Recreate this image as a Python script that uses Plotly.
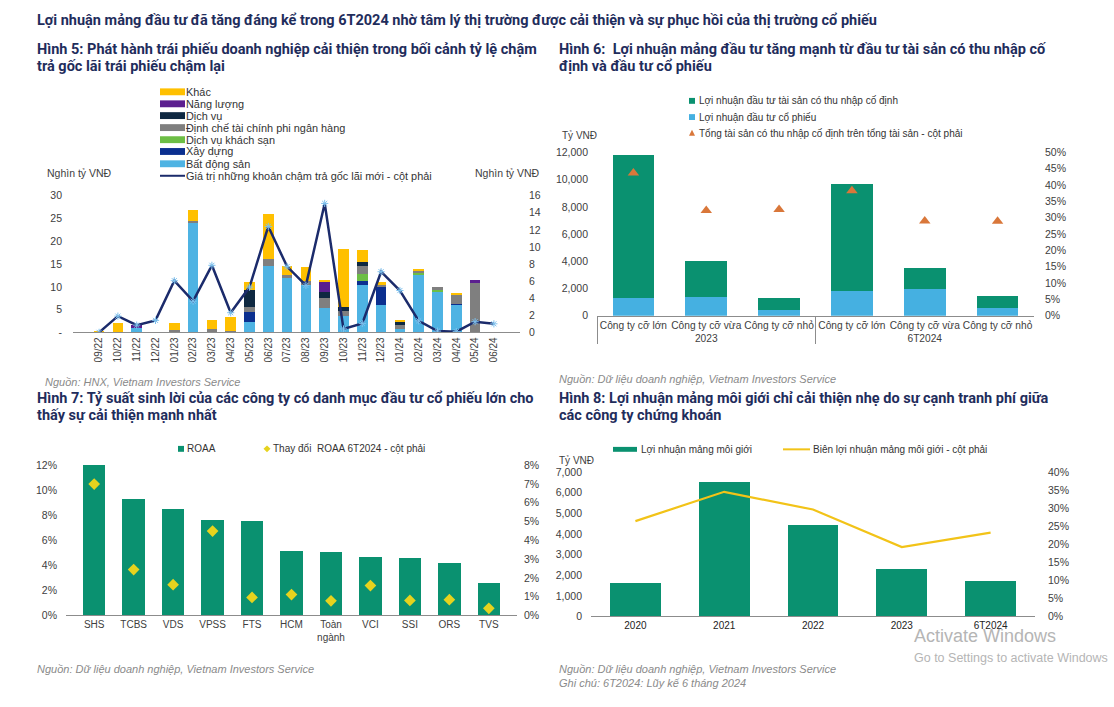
import plotly.graph_objects as go

W, H = 1114, 707
def fx(x): return x / W
def fy(y): return 1 - y / H

# ---------------- DATA ----------------
# Hình 5
months = ["09/22","10/22","11/22","12/22","01/23","02/23","03/23","04/23","05/23","06/23","07/23",
          "08/23","09/23","10/23","11/23","12/23","01/24","02/24","03/24","04/24","05/24","06/24"]
bds        = [0, 0, 1.0, 0, 0, 24.1, 0, 0, 2.3, 14.6, 11.9, 10.3, 5.35, 3.6, 10.5, 6.1, 0.7, 12.65, 8.8, 6.1, 0, 0]
xay_dung   = [0, 0, 0, 0, 0, 0, 0, 0, 2.1, 0, 0, 0, 0, 0, 0.7, 4.0, 0, 0, 0, 0.2, 0, 0]
dv_ks      = [0, 0, 0, 0, 0.3, 0, 0.3, 0, 0, 0, 0, 0, 0, 0, 1.7, 0, 0, 0.45, 0.7, 0, 0, 0]
dinh_che   = [0, 0, 0, 0, 0.2, 0.3, 0.4, 0.2, 1.2, 1.45, 0.7, 0.9, 2.3, 1.1, 1.6, 0.4, 1.0, 0.6, 0.4, 2.0, 11.0, 0]
dich_vu    = [0, 0, 0, 0, 0, 0, 0, 0, 3.7, 0, 0, 0, 1.15, 0.9, 1.0, 0, 0.5, 0, 0, 0, 0, 0]
nang_luong = [0, 0, 0.7, 0, 0, 0, 0, 0, 0, 0, 0, 0, 2.2, 0, 0, 0, 0, 0, 0, 0, 0.4, 0]
khac       = [0.3, 2.0, 0, 0.1, 1.5, 2.5, 2.0, 3.1, 1.8, 10.0, 1.9, 3.2, 0.5, 12.7, 2.6, 0.6, 0.6, 0.3, 0, 0.4, 0, 0]
cham_tra   = [0, 1.9, 0.85, 1.4, 6.05, 3.65, 7.85, 2.3, 5.3, 12.4, 7.7, 5.5, 15.1, 0.4, 1.05, 7.1, 4.9, 1.35, 0.15, 0.08, 1.25, 1.0]

# Hình 6
h6_groups = ["2023", "2023", "2023", "6T2024", "6T2024", "6T2024"]
h6_cats = ["Công ty cỡ lớn", "Công ty cỡ vừa", "Công ty cỡ nhỏ", "Công ty cỡ lớn", "Công ty cỡ vừa", "Công ty cỡ nhỏ"]
h6_co_dinh = [10520, 2650, 920, 7910, 1550, 915]
h6_co_phieu = [1330, 1350, 410, 1790, 1980, 560]
h6_ty_le = [0.437, 0.322, 0.325, 0.383, 0.290, 0.289]

# Hình 7
h7_cos = ["SHS", "TCBS", "VDS", "VPSS", "FTS", "HCM", "Toàn<br>ngành", "VCI", "SSI", "ORS", "TVS"]
h7_roaa = [0.120, 0.0931, 0.0850, 0.0761, 0.0750, 0.0518, 0.0510, 0.0468, 0.0458, 0.0418, 0.0259]
h7_thay_doi = [0.0699, 0.0244, 0.0164, 0.0449, 0.0096, 0.0111, 0.0078, 0.0159, 0.0080, 0.0084, 0.0038]

# Hình 8
h8_years = ["2020", "2021", "2022", "2023", "6T2024"]
h8_loi_nhuan = [1620, 6520, 4450, 2320, 1730]
h8_bien = [0.264, 0.345, 0.296, 0.192, 0.232]

# ---------------- STYLE ----------------
NAVY = "#1F2D5C"
GREEN = "#0A9170"
LBLUE = "#45B0E1"
TICK = dict(family="Liberation Sans, Arial, sans-serif", size=10.5, color="#404040")
TITLE_FONT = dict(family="Roboto, Noto Sans, sans-serif", size=14.5, color=NAVY, weight="bold")
SRC_FONT = dict(family="Liberation Sans, Arial, sans-serif", size=11, color="#8a8a8a", style="italic")
LEG_FONT = dict(family="Liberation Sans, Arial, sans-serif", size=10.9, color="#333333")

c5 = {"Khác": "#FFC000", "Năng lượng": "#5B1F8F", "Dịch vụ": "#0E2841",
      "Định chế tài chính phi ngân hàng": "#7F7F7F", "Dịch vụ khách sạn": "#6DBE45",
      "Xây dựng": "#0B2F8F", "Bất động sản": "#4EB3E3"}
LINE5 = "#1B2B6B"

fig = go.Figure()

# Panel 5 bars (bottom to top)
for name, vals in [("Bất động sản", bds), ("Xây dựng", xay_dung), ("Dịch vụ khách sạn", dv_ks),
                   ("Định chế tài chính phi ngân hàng", dinh_che), ("Dịch vụ", dich_vu),
                   ("Năng lượng", nang_luong), ("Khác", khac)]:
    fig.add_trace(go.Bar(x=months, y=vals, name=name, marker_color=c5[name], marker_line_width=0,
                         xaxis="x", yaxis="y", showlegend=False))
fig.add_trace(go.Scatter(x=months, y=cham_tra, name="Giá trị những khoản chậm trả gốc lãi mới - cột phải",
                         mode="lines+markers", line=dict(color=LINE5, width=2.5),
                         marker=dict(symbol="asterisk-open", size=6, color="#7fc2ee",
                                     line=dict(color="#7fc2ee", width=1)),
                         xaxis="x", yaxis="y2", showlegend=False))

# Panel 6
fig.add_trace(go.Bar(x=[h6_groups, h6_cats], y=h6_co_phieu, name="Lợi nhuận đầu tư cổ phiếu",
                     marker_color=LBLUE, marker_line_width=0, xaxis="x2", yaxis="y3", showlegend=False))
fig.add_trace(go.Bar(x=[h6_groups, h6_cats], y=h6_co_dinh, name="Lợi nhuận đầu tư tài sản có thu nhập cố định",
                     marker_color=GREEN, marker_line_width=0, xaxis="x2", yaxis="y3", showlegend=False))
fig.add_trace(go.Scatter(x=[h6_groups, h6_cats], y=h6_ty_le, mode="markers",
                         name="Tổng tài sản có thu nhập cố định trên tổng tài sản - cột phải",
                         marker=dict(symbol="triangle-up", size=10, color="#D9773A"),
                         xaxis="x2", yaxis="y4", showlegend=False))

# Panel 7
fig.add_trace(go.Bar(x=h7_cos, y=h7_roaa, name="ROAA", marker_color=GREEN, marker_line_width=0,
                     xaxis="x3", yaxis="y5", showlegend=False))
fig.add_trace(go.Scatter(x=h7_cos, y=h7_thay_doi, mode="markers", name="Thay đổi  ROAA 6T2024 - cột phải",
                         marker=dict(symbol="diamond", size=9, color="#E6D31E"),
                         xaxis="x3", yaxis="y6", showlegend=False))

# Panel 8
fig.add_trace(go.Bar(x=h8_years, y=h8_loi_nhuan, name="Lợi nhuận mảng môi giới", marker_color=GREEN,
                     marker_line_width=0, xaxis="x4", yaxis="y7", showlegend=False))
fig.add_trace(go.Scatter(x=h8_years, y=h8_bien, mode="lines", name="Biên lợi nhuận mảng môi giới - cột phải",
                         line=dict(color="#F2C318", width=2.2), xaxis="x4", yaxis="y8", showlegend=False))

AX = dict(showgrid=False, zeroline=False, ticks="", tickfont=TICK)
XL = dict(showline=True, linecolor="#8c8c8c", linewidth=1)

fig.update_layout(
    width=W, height=H, margin=dict(l=0, r=0, t=0, b=0),
    paper_bgcolor="white", plot_bgcolor="white",
    barmode="stack", bargap=0.43, showlegend=False,
    xaxis=dict(AX, **XL, domain=[fx(73), fx(520)], anchor="y", type="category", tickangle=-90,
               tickfont=dict(TICK, size=10)),
    yaxis=dict(AX, domain=[fy(332), fy(193)], anchor="x", range=[0, 30],
               tickvals=[0, 5, 10, 15, 20, 25, 30], ticktext=["-", "5", "10", "15", "20", "25", "30"],
               ticklabelstandoff=10),
    yaxis2=dict(AX, overlaying="y", side="right", anchor="x", range=[0, 16], dtick=2, ticklabelstandoff=8),
    xaxis2=dict(AX, **XL, domain=[fx(597), fx(1034)], anchor="y3", type="multicategory", tickangle=0,
                tickfont=dict(TICK, size=10.2), dividercolor="#8c8c8c", dividerwidth=1),
    yaxis3=dict(AX, domain=[fy(315), fy(149)], anchor="x2", range=[0, 12000], dtick=2000,
                tickformat=",", ticklabelstandoff=8),
    yaxis4=dict(AX, overlaying="y3", side="right", anchor="x2", range=[0, 0.5], dtick=0.05,
                tickformat=".0%", ticklabelstandoff=10),
    xaxis3=dict(AX, **XL, domain=[fx(66), fx(517)], anchor="y5", type="category",
                tickfont=dict(TICK, size=10)),
    yaxis5=dict(AX, domain=[fy(620), fy(467)], anchor="x3", range=[0, 0.12], dtick=0.02,
                tickformat=".0%", ticklabelstandoff=8),
    yaxis6=dict(AX, overlaying="y5", side="right", anchor="x3", range=[0, 0.08], dtick=0.01,
                tickformat=".0%", ticklabelstandoff=6),
    xaxis4=dict(AX, **XL, domain=[fx(591), fx(1035)], anchor="y7", type="category",
                tickfont=dict(TICK, size=10, color="#222222")),
    yaxis7=dict(AX, domain=[fy(621), fy(474)], anchor="x4", range=[0, 7000], dtick=1000,
                tickformat=",", ticklabelstandoff=8),
    yaxis8=dict(AX, overlaying="y7", side="right", anchor="x4", range=[0, 0.4], dtick=0.05,
                tickformat=".0%", ticklabelstandoff=12),
)

ann = []
shapes = []
def text(x, y, s, font, xanchor="left"):
    ann.append(dict(x=fx(x), y=fy(y), xref="paper", yref="paper", text=s, showarrow=False,
                    xanchor=xanchor, yanchor="middle", font=font))

def rect(x0, y0, x1, y1, color):
    shapes.append(dict(type="rect", xref="paper", yref="paper", x0=fx(x0), x1=fx(x1), y0=fy(y1), y1=fy(y0),
                       fillcolor=color, line=dict(width=0)))

def hline(x0, x1, y, color, w):
    shapes.append(dict(type="line", xref="paper", yref="paper", x0=fx(x0), x1=fx(x1), y0=fy(y), y1=fy(y),
                       line=dict(color=color, width=w)))

# Titles
text(35, 15, "Lợi nhuận mảng đầu tư đã tăng đáng kể trong 6T2024 nhờ tâm lý thị trường được cải thiện và sự phục hồi của thị trường cổ phiếu", TITLE_FONT)
text(35, 44, "Hình 5: Phát hành trái phiếu doanh nghiệp cải thiện trong bối cảnh tỷ lệ chậm", TITLE_FONT)
text(35, 62, "trả gốc lãi trái phiếu chậm lại", TITLE_FONT)
text(557, 44, "Hình 6:  Lợi nhuận mảng đầu tư tăng mạnh từ đầu tư tài sản có thu nhập cố", TITLE_FONT)
text(557, 62, "định và đầu tư cổ phiếu", TITLE_FONT)
text(35, 399, "Hình 7: Tỷ suất sinh lời của các công ty có danh mục đầu tư cổ phiếu lớn cho", TITLE_FONT)
text(35, 417, "thấy sự cải thiện mạnh nhất", TITLE_FONT)
text(557, 399, "Hình 8: Lợi nhuận mảng môi giới chỉ cải thiện nhẹ do sự cạnh tranh phí giữa", TITLE_FONT)
text(557, 417, "các công ty chứng khoán", TITLE_FONT)

# Sources
text(43, 383, "Nguồn: HNX, Vietnam Investors Service", SRC_FONT)
text(557, 379, "Nguồn: Dữ liệu doanh nghiệp, Vietnam Investors Service", SRC_FONT)
text(35, 674, "Nguồn: Dữ liệu doanh nghiệp, Vietnam Investors Service", SRC_FONT)
text(557, 674, "Nguồn: Dữ liệu doanh nghiệp, Vietnam Investors Service", SRC_FONT)
text(557, 689, "Ghi chú: 6T2024: Lũy kế 6 tháng 2024", SRC_FONT)

# Axis unit labels
UNIT = dict(TICK, size=10.5)
text(45, 170, "Nghìn tỷ VNĐ", UNIT)
text(473, 170, "Nghìn tỷ VNĐ", UNIT)
text(560, 132, "Tỷ VNĐ", dict(TICK, size=10))
text(557, 462, "Tỷ VNĐ", dict(TICK, size=10))

# Legend panel 5
leg5 = [("Khác", 87.3), ("Năng lượng", 99.5), ("Dịch vụ", 111.5), ("Định chế tài chính phi ngân hàng", 123.7),
        ("Dịch vụ khách sạn", 136), ("Xây dựng", 148), ("Bất động sản", 160.5)]
for name, y in leg5:
    rect(160, y - 3.5, 185, y + 3.5, c5[name])
    text(184, y, name, LEG_FONT)
hline(160, 185, 172.7, LINE5, 2)
text(184, 172.7, "Giá trị những khoản chậm trả gốc lãi mới - cột phải", LEG_FONT)

# Legend panel 6
LF6 = dict(LEG_FONT, size=10)
rect(689, 93.5, 695, 99.5, GREEN)
text(697, 96.5, "Lợi nhuận đầu tư tài sản có thu nhập cố định", LF6)
rect(689, 110, 695, 116, LBLUE)
text(697, 113, "Lợi nhuận đầu tư cổ phiếu", LF6)
shapes.append(dict(type="path", xref="paper", yref="paper",
                   path=f"M {fx(689)},{fy(132)} L {fx(695)},{fy(132)} L {fx(692)},{fy(126)} Z",
                   fillcolor="#D9773A", line=dict(width=0)))
text(697, 129.5, "Tổng tài sản có thu nhập cố định trên tổng tài sản - cột phải", LF6)

# Legend panel 7
rect(178, 447.5, 184, 453.5, GREEN)
text(185, 450.5, "ROAA", LF6)
shapes.append(dict(type="path", xref="paper", yref="paper",
                   path=f"M {fx(263.5)},{fy(450.5)} L {fx(267)},{fy(447)} L {fx(270.5)},{fy(450.5)} L {fx(267)},{fy(454)} Z",
                   fillcolor="#E6D31E", line=dict(width=0)))
text(271, 450.5, "Thay đổi  ROAA 6T2024 - cột phải", LF6)

# Legend panel 8
rect(613, 448.5, 637, 453.5, GREEN)
text(639, 451, "Lợi nhuận mảng môi giới", LF6)
hline(783, 810, 451, "#F2C318", 2)
text(811, 451, "Biên lợi nhuận mảng môi giới - cột phải", LF6)

# Screen overlay text visible in reference
text(912, 641, "Activate Windows", dict(family="Liberation Sans, Arial", size=18, color="#b5b5b5"))
text(912, 663, "Go to Settings to activate Windows", dict(family="Liberation Sans, Arial", size=12.5, color="#b5b5b5"))

fig.update_layout(annotations=ann, shapes=shapes)
fig.write_html("out.html")
